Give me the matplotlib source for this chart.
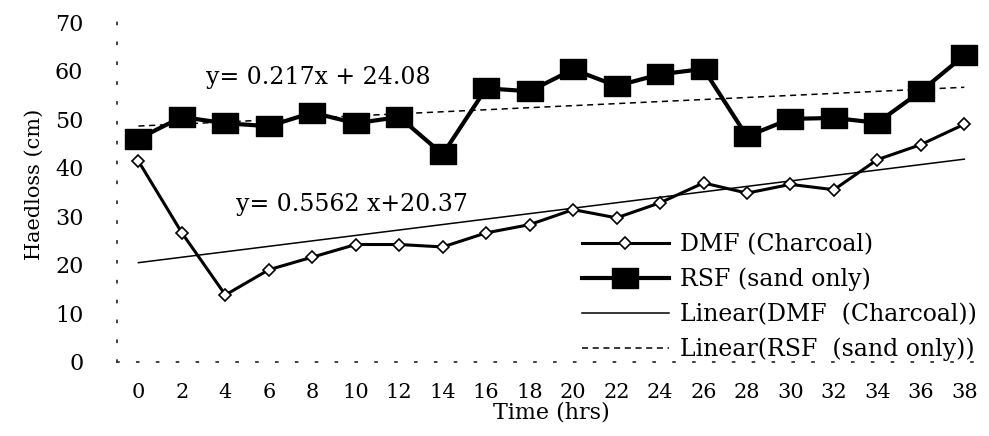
import numpy as np
import matplotlib
matplotlib.use("Agg")
import matplotlib.pyplot as plt
from matplotlib.path import Path

hours = [0, 2, 4, 6, 8, 10, 12, 14, 16, 18, 20, 22, 24, 26, 28, 30, 32, 34, 36, 38]
dmf = [41.4, 26.6, 13.8, 19.0, 21.6, 24.2, 24.2, 23.7, 26.6, 28.3,
       31.4, 29.7, 32.8, 36.9, 34.8, 36.6, 35.5, 41.7, 44.8, 49.0]
rsf = [46.0, 50.5, 49.2, 48.6, 51.4, 49.2, 50.5, 42.8, 56.4, 55.8,
       60.3, 56.9, 59.3, 60.4, 46.5, 50.1, 50.3, 49.3, 55.8, 63.2]
yticks = [0, 10, 20, 30, 40, 50, 60, 70]
eq_dmf = "y= 0.5562 x+20.37"
eq_rsf = "y= 0.217x + 24.08"

plt.rcParams['font.family'] = ['DejaVu Serif']

fig = plt.figure(figsize=(9.89, 4.36), dpi=100)
ax = fig.add_axes([0.118, 0.170, 0.879, 0.812])

x = np.array(hours)
# wide flat square like the original
box = Path([(-1.3, -1), (1.3, -1), (1.3, 1), (-1.3, 1), (-1.3, -1)],
           [Path.MOVETO, Path.LINETO, Path.LINETO, Path.LINETO, Path.CLOSEPOLY])

ax.plot(x, dmf, color='black', lw=2.2, marker='D', ms=6, mfc='white',
        mec='black', mew=1.2, label='DMF (Charcoal)', zorder=4)
ax.plot(x, rsf, color='black', lw=3, marker=box, ms=19, mfc='black',
        mec='black', label='RSF (sand only)', zorder=5)

p1 = np.polyfit(x, dmf, 1)
p2 = np.polyfit(x, rsf, 1)
xx = np.array([0, 38])
ax.plot(xx, np.polyval(p1, xx), color='black', lw=1.1,
        label='Linear(DMF  (Charcoal))', zorder=3)
ax.plot(xx, np.polyval(p2, xx), color='black', lw=1.1, ls=(0, (4, 3)),
        label='Linear(RSF  (sand only))', zorder=3)

ax.text(3.1, 58.7, eq_rsf, fontsize=17, va='center', ha='left')
ax.text(4.5, 32.4, eq_dmf, fontsize=17, va='center', ha='left')

ax.set_xlim(-1, 39)
ax.set_ylim(0, 73)
ax.set_xticks(hours)
ax.set_yticks(yticks)
ax.tick_params(axis='x', length=0, pad=15, labelsize=15)
ax.tick_params(axis='y', length=0, pad=24, labelsize=16)

for s in ['top', 'right']:
    ax.spines[s].set_visible(False)
for s in ['left', 'bottom']:
    ax.spines[s].set_linestyle((0, (1, 10)))
    ax.spines[s].set_color('#333333')
    ax.spines[s].set_linewidth(1.3)

ax.set_xlabel('Time (hrs)', fontsize=16, labelpad=0)
ax.set_ylabel('Haedloss (cm)', fontsize=15, labelpad=8)

leg = ax.legend(loc='lower right', bbox_to_anchor=(1.0, -0.025), frameon=False,
                fontsize=17, handlelength=3.7, handletextpad=0.45,
                labelspacing=0.5, borderaxespad=0)

fig.savefig('out.png', dpi=100, facecolor='white')
